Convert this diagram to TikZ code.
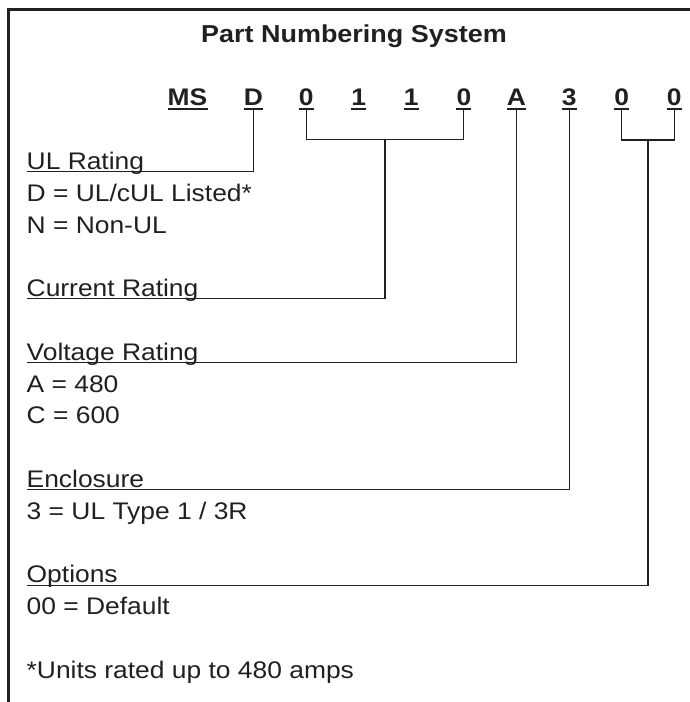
\documentclass[tikz,border=0pt]{standalone}
\usepackage{fontspec}
\setmainfont{Liberation Sans}[FakeStretch=1.1]
\usepackage{tikz}
\usetikzlibrary{
  positioning,
  calc
}
\definecolor{ink}{HTML}{231F20}

\begin{document}
\begin{tikzpicture}[
  x=1pt, y=-1pt,
  font=\fontsize{24}{29}\selectfont,
  every node/.style={inner sep=0pt, text=ink},
  heading/.style={
    font=\fontsize{24.5}{29}\selectfont\bfseries,
    anchor=base
  },
  digit/.style={
    font=\fontsize{24}{29}\selectfont\bfseries,
    anchor=base
  },
  field/.style={anchor=base west},
  border/.style={draw=ink, line width=2.7pt},
  uline/.style={draw=ink, line width=1.8pt},
  conn/.style={draw=ink, line width=1.1pt}
]
\useasboundingbox (0,0) rectangle (690,702);

% frame, open at right and bottom
\draw[border] (8.7,702) -- (8.7,9.7) -- (690,9.7);

\node[heading] (ttl) at (354,42) {Part Numbering System};

% part number
\node[digit] (dMS) at (187.5,105) {MS};
\foreach \ch [count=\i] in {D,0,1,1,0,A,3,0,0}
  \node[digit] (d\i) at ({253.5+52.6*(\i-1)},105) {\ch};
\foreach \n in {dMS,d1,d2,d3,d4,d5,d6,d7,d8,d9}
  \draw[uline] ([yshift=-4pt]\n.base west) -- ([yshift=-4pt]\n.base east);

% fields
\node[field] (ul)   at (26.5,169.5) {UL Rating};
\node[field] (ul1)  at (26.5,201.3) {D = UL/cUL Listed*};
\node[field] (ul2)  at (26.5,233.1) {N = Non-UL};
\node[field] (cur)  at (26.5,296.7) {Current Rating};
\node[field] (volt) at (26.5,360.3) {Voltage Rating};
\node[field] (volt1) at (26.5,392.1) {A = 480};
\node[field] (volt2) at (26.5,423.9) {C = 600};
\node[field] (enc)  at (26.5,487.5) {Enclosure};
\node[field] (enc1) at (26.5,519.3) {3 = UL Type 1 / 3R};
\node[field] (opt)  at (26.5,582.9) {Options};
\node[field] (opt1) at (26.5,614.7) {00 = Default};
\node[field] (note) at (26.5,678.3) {*Units rated up to 480 amps};

% brackets
\coordinate (b1) at ($(d2.base)!.5!(d5.base)+(0,34.5)$);
\coordinate (b2) at ($(d8.base)!.5!(d9.base)+(0,35)$);
\draw[conn] ([yshift=-4pt]d2.base) |- (b1) -| ([yshift=-4pt]d5.base);
\draw[conn] ([yshift=-4pt]d8.base) |- (b2) -| ([yshift=-4pt]d9.base);

% leaders
\draw[conn] ([yshift=-4pt]d1.base) |- ([yshift=-2.2pt]ul.base west);
\draw[conn] (b1) |- ([yshift=-2.2pt]cur.base west);
\draw[conn] ([yshift=-4pt]d6.base) |- ([yshift=-2.2pt]volt.base west);
\draw[conn] ([yshift=-4pt]d7.base) |- ([yshift=-2.2pt]enc.base west);
\draw[conn] (b2) |- ([yshift=-2.2pt]opt.base west);

\end{tikzpicture}
\end{document}
